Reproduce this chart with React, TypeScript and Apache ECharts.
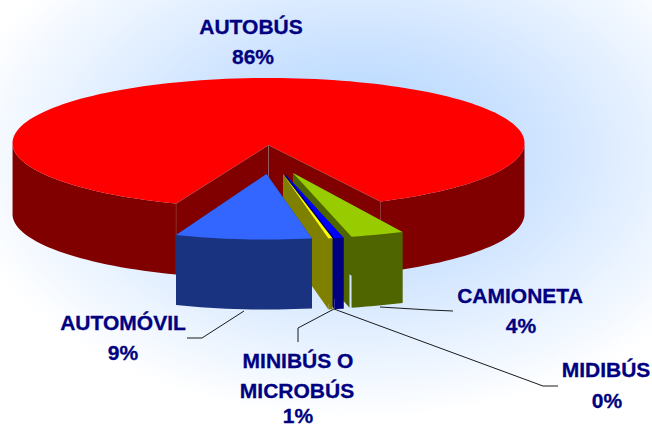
import React, { useEffect, useRef } from "react";
import * as echarts from "echarts";

const categories = ["AUTOBÚS", "CAMIONETA", "MINIBÚS O MICROBÚS", "MIDIBÚS", "AUTOMÓVIL"];
const shares = [86.9, 3.45, 0.6, 0.25, 8.8];
const percentLabels = ["86%", "4%", "1%", "0%", "9%"];
const topColors = ["#ff0000", "#99cc00", "#0000ff", "#ffff00", "#3366ff"];
const sideColors = ["#800000", "#4f6600", "#000080", "#808000", "#1a3380"];
const wallColors = ["#800000", "#4f6600", "#000080", "#808000", "#1a3380"];
const explodeX = [0, 24.5, 16.5, 14.5, -2];
const explodeY = [0, 28, 29, 29, 29];
const depths = [71, 71, 71, 71, 70];
const radiiX = [256, 250, 250, 250, 250];
const radiiY = [65, 65.5, 65.5, 65.5, 65.5];
const rimShiftY = [-2, 0, 0, 0, 0];

const CX = 268.5, CY = 145;
const START = -21.2; // degrees from the bottom of the ellipse, negative to the left
const D2R = Math.PI / 180;
const FONT = "'Liberation Sans', Arial, sans-serif";
const NAVY = "#000080";

function arcOf(index: number) {
  const total = shares.reduce((a, b) => a + b, 0);
  let from = START;
  for (let i = 0; i < index; i++) from -= (shares[i] / total) * 360;
  return [from, from - (shares[index] / total) * 360];
}

function renderSlice(params: any, api: any) {
  const i = params.dataIndex;
  const value = api.value(0);
  const total = shares.reduce((a, b) => a + b, 0);
  const [a0] = arcOf(i);
  const a1 = a0 - (value / total) * 360;
  const ox = explodeX[i], oy = explodeY[i], dep = depths[i];
  const apex = [CX + ox, CY + oy];
  const pt = (deg: number, d = 0) => [
    CX + ox + radiiX[i] * Math.sin(deg * D2R),
    CY + oy + rimShiftY[i] + radiiY[i] * Math.cos(deg * D2R) + d,
  ];
  const N = Math.max(4, Math.ceil(Math.abs(a1 - a0) / 2));
  const samples: number[] = [];
  for (let k = 0; k <= N; k++) samples.push(a0 + ((a1 - a0) * k) / N);

  const children: any[] = [];
  const wallStyle =
    i === 0
      ? { fill: wallColors[i], stroke: "#9a6a6a", lineWidth: 0.7 }
      : { fill: wallColors[i] };
  const wall = (deg: number, shift: number) => {
    const e = pt(deg);
    return {
      type: "polygon",
      shape: {
        points: [apex, [e[0] + shift, e[1]], [e[0] + shift, e[1] + dep], [apex[0], apex[1] + dep]],
      },
      style: wallStyle,
    };
  };
  children.push(wall(a0, 0));
  children.push(wall(a1, i === 1 ? -2 : 0));

  // outer rim: only the stretches facing the viewer
  let run: number[] = [];
  const flush = () => {
    if (run.length > 1) {
      const upper = run.map((d) => pt(d));
      const lower = run.map((d) => pt(d, dep)).reverse();
      children.push({
        type: "polygon",
        shape: { points: upper.concat(lower) },
        style: { fill: sideColors[i] },
      });
    }
    run = [];
  };
  samples.forEach((d) => {
    if (Math.cos(d * D2R) >= -0.001) run.push(d);
    else flush();
  });
  flush();

  children.push({
    type: "polygon",
    shape: { points: [apex].concat(samples.map((d) => pt(d))) },
    style: { fill: topColors[i] },
  });
  return { type: "group", children };
}

function textEl(text: string, x: number, y: number) {
  return {
    type: "text",
    z: 20,
    x,
    y,
    style: {
      text,
      fill: NAVY,
      stroke: NAVY,
      lineWidth: 0.3,
      font: `bold 21px ${FONT}`,
      align: "center",
      verticalAlign: "middle",
    },
  };
}

function leader(points: number[][]) {
  return {
    type: "polyline",
    z: 15,
    shape: { points },
    style: { stroke: "#1a1a1a", lineWidth: 1, fill: "none" },
  };
}

export default function App() {
  const ref = useRef<HTMLDivElement>(null);
  useEffect(() => {
    document.body.style.margin = "0";
    const chart = echarts.init(ref.current!, undefined, { renderer: "svg" });
    chart.setOption({
      animation: false,
      graphic: {
        elements: [
          {
            type: "rect",
            z: -10,
            shape: { x: 0, y: 0, width: 652, height: 427 },
            style: {
              fill: new echarts.graphic.RadialGradient(0.55, 0.36, 0.62, [
                { offset: 0, color: "#a9d2ff" },
                { offset: 0.45, color: "#cfe4ff" },
                { offset: 1, color: "#ffffff" },
              ]),
            },
          },
          leader([[380, 307], [430, 310], [453, 311]]),
          leader([[244, 311], [202, 338], [187, 338]]),
          leader([[334, 309], [298, 328], [298, 342]]),
          leader([[334, 309], [543, 386], [558, 386]]),
          textEl(categories[0], 251, 26),
          textEl(percentLabels[0], 253, 56),
          textEl(categories[1], 520, 295),
          textEl(percentLabels[1], 521, 325),
          textEl("MINIBÚS O", 298, 360),
          textEl("MICROBÚS", 297, 390),
          textEl(percentLabels[2], 298, 415),
          textEl(categories[3], 606, 369),
          textEl(percentLabels[3], 607, 400),
          textEl(categories[4], 123, 322),
          textEl(percentLabels[4], 123, 352),
        ],
      },
      series: [
        {
          type: "custom",
          coordinateSystem: "none",
          silent: true,
          clip: false,
          data: shares.map((v, i) => ({ name: categories[i], value: [v] })),
          renderItem: renderSlice,
        },
      ],
    });
    return () => chart.dispose();
  }, []);
  return <div ref={ref} style={{ width: 652, height: 427 }} />;
}
